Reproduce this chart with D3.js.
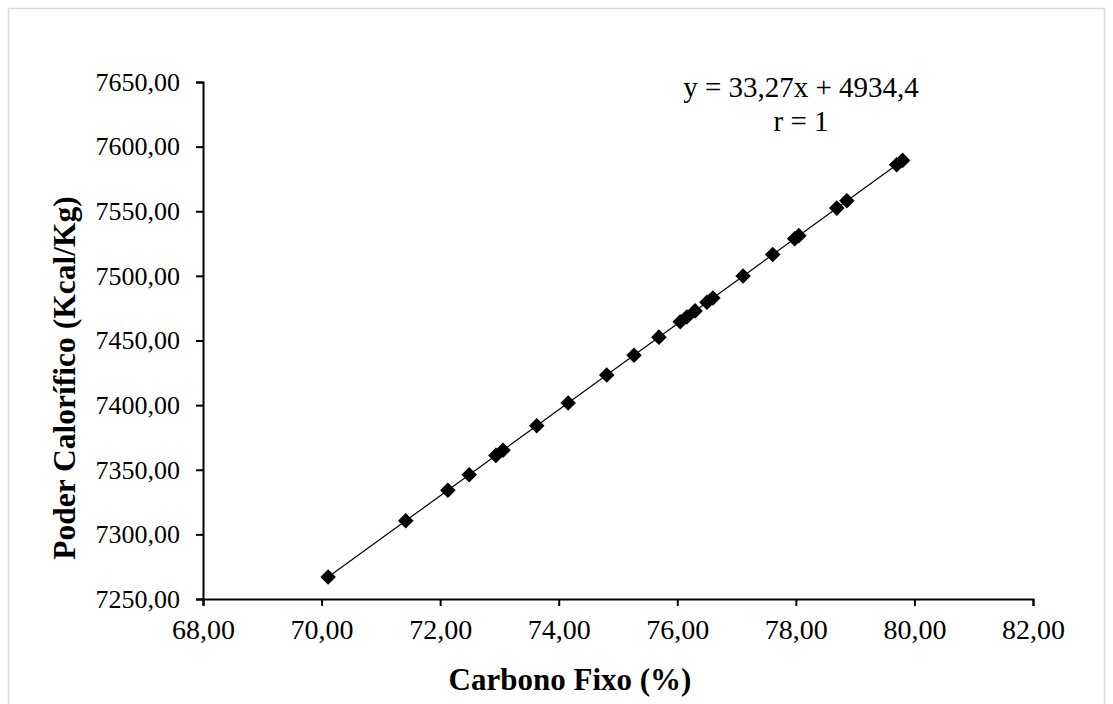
<!DOCTYPE html>
<html>
<head>
<meta charset="utf-8">
<script src="https://cdn.jsdelivr.net/npm/d3@7"></script>
<style>
  body { margin: 0; background: #fff; }
  svg { display: block; font-family: "Liberation Serif", "Times New Roman", serif; }
</style>
</head>
<body>
<svg width="1113" height="704"></svg>
<script>
/* DATA */
var carbonoFixo = [70.11, 71.42, 72.13, 72.49, 72.94, 73.06, 73.63, 74.16, 74.81, 75.27,
	75.69, 76.05, 76.16, 76.30, 76.50, 76.60, 77.11, 77.61, 77.98, 78.05,
	78.69, 78.86, 79.70, 79.80];
var poderCalorifico = [7266.96, 7310.54, 7334.18, 7346.14, 7361.11, 7365.11, 7384.07, 7401.70, 7423.33, 7438.63,
	7452.61, 7464.58, 7468.24, 7472.90, 7479.56, 7482.88, 7499.85, 7516.48, 7528.79, 7531.12,
	7552.42, 7558.07, 7586.02, 7589.35];
var xTicks = [68, 70, 72, 74, 76, 78, 80, 82];
var yTicks = [7250, 7300, 7350, 7400, 7450, 7500, 7550, 7600, 7650];
var slope = 33.27;
var intercept = 4934.4;
var equationLines = ["y = 33,27x + 4934,4", "r = 1"];

/* SVG */
var svg = d3.select("svg");
var margin = { left: 203, right: 80, top: 82, bottom: 105 };
var width = 1113, height = 704;

// light frame around the chart
svg.append("rect")
	.attr("x", 8.5).attr("y", 8.5)
	.attr("width", 1096).attr("height", 720)
	.attr("fill", "none").attr("stroke", "#d9d9d9").attr("stroke-width", 1.5);

/* SCALES */
var x = d3.scaleLinear().domain([68, 82]).range([margin.left, width - margin.right]);
var y = d3.scaleLinear().domain([7250, 7650]).range([height - margin.bottom, margin.top]);

var fmt = function (d) { return d3.format(".2f")(d).replace(".", ","); };

/* AXES */
var xAxis = svg.append("g")
	.attr("transform", `translate(0, ${y(7250)})`)
	.call(d3.axisBottom(x).tickValues(xTicks).tickFormat(fmt).tickSizeOuter(0).tickSize(7).tickPadding(13));
var yAxis = svg.append("g")
	.attr("transform", `translate(${x(68)}, 0)`)
	.call(d3.axisLeft(y).tickValues(yTicks).tickFormat(fmt).tickSizeOuter(0).tickSize(7).tickPadding(16));

[xAxis, yAxis].forEach(function (g) {
	g.selectAll("path, line").attr("stroke", "#000").attr("stroke-width", 2);
	g.selectAll("text")
		.attr("font-family", "Liberation Serif, Times New Roman, serif")
		.attr("fill", "#000");
});
xAxis.selectAll("text").attr("font-size", 28);
yAxis.selectAll("text").attr("font-size", 26);

/* TRENDLINE */
var xMin = d3.min(carbonoFixo), xMax = d3.max(carbonoFixo);
svg.append("line")
	.attr("x1", x(xMin)).attr("y1", y(slope * xMin + intercept))
	.attr("x2", x(xMax)).attr("y2", y(slope * xMax + intercept))
	.attr("stroke", "#000").attr("stroke-width", 1.2);

/* POINTS */
var points = carbonoFixo.map(function (d, i) { return { cf: d, pc: poderCalorifico[i] }; });
svg.append("g")
	.selectAll("rect")
	.data(points)
	.enter()
	.append("rect")
	.attr("x", -5.5).attr("y", -5.5)
	.attr("width", 11).attr("height", 11)
	.attr("fill", "#000")
	.attr("transform", function (d) {
		return `translate(${x(d.cf)}, ${y(d.pc)}) rotate(45)`;
	});

/* LABELS */
svg.append("text")
	.attr("x", 570).attr("y", 690)
	.attr("text-anchor", "middle")
	.attr("font-size", 31).attr("font-weight", "bold")
	.text("Carbono Fixo (%)");

svg.append("text")
	.attr("transform", "translate(75, 378) rotate(-90)")
	.attr("text-anchor", "middle")
	.attr("font-size", 31.5).attr("font-weight", "bold")
	.text("Poder Calorífico (Kcal/Kg)");

svg.append("g")
	.selectAll("text")
	.data(equationLines)
	.enter()
	.append("text")
	.attr("x", 801)
	.attr("y", function (d, i) { return 97 + i * 34; })
	.attr("text-anchor", "middle")
	.attr("font-size", 29)
	.text(function (d) { return d; });
</script>
</body>
</html>
